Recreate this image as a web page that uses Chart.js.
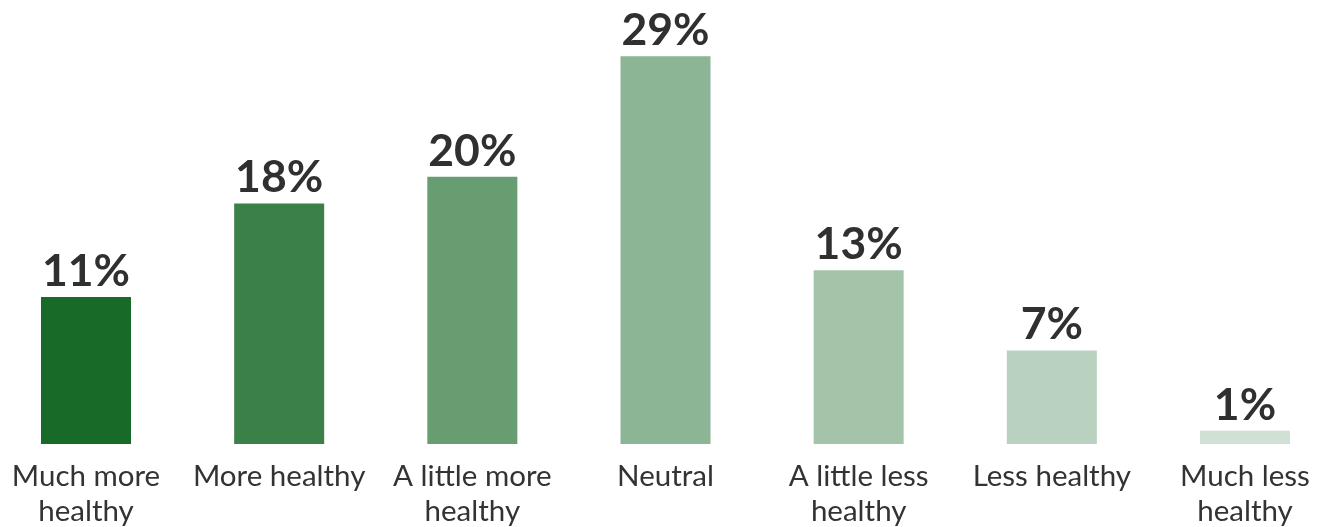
<!DOCTYPE html>
<html>
<head>
<meta charset="utf-8">
<script src="https://cdn.jsdelivr.net/npm/chart.js@4.4.1/dist/chart.umd.min.js"></script>
<style>
  html, body { margin: 0; padding: 0; background: #ffffff; }
  #wrap { width: 1323px; height: 527px; position: relative; }
</style>
</head>
<body>
<div id="wrap"><canvas id="healthChart"></canvas></div>
<script>
// Datos del gráfico
const categories = [
    ["Much more", "healthy"],
    "More healthy",
    ["A little more", "healthy"],
    "Neutral",
    ["A little less", "healthy"],
    "Less healthy",
    ["Much less", "healthy"]
];
const percentages = [11, 18, 20, 29, 13, 7, 1];
const barColors = ["#176a27", "#3c8049", "#689d72", "#8bb594", "#a4c4aa", "#b9d1bf", "#d0e0d4"];

// Etiquetas de valor encima de cada barra
const valueLabels = {
    id: "valueLabels",
    afterDatasetsDraw(chart) {
        const ctx = chart.ctx;
        const meta = chart.getDatasetMeta(0);
        ctx.save();
        ctx.font = "bold 44.5px Lato";
        ctx.fillStyle = "#303030";
        ctx.textAlign = "center";
        ctx.textBaseline = "alphabetic";
        meta.data.forEach(function(bar, i) {
            ctx.fillText(percentages[i] + "%", bar.x, bar.y - 11);
        });
        ctx.restore();
    }
};

const ctx = document.getElementById("healthChart").getContext("2d");
const chart = new Chart(ctx, {
    type: "bar",
    data: {
        labels: categories,
        datasets: [{
            data: percentages,
            backgroundColor: barColors,
            barPercentage: 0.466,
            categoryPercentage: 1,
            borderWidth: 0,
            clip: false
        }]
    },
    options: {
        responsive: true,
        maintainAspectRatio: false,
        animation: false,
        layout: {
            padding: { left: 86, right: 78, top: 43, bottom: -16 }
        },
        plugins: {
            legend: { display: false },
            tooltip: { enabled: false }
        },
        scales: {
            x: {
                offset: false,
                grid: { display: false, drawTicks: false },
                border: { display: false },
                afterFit: function(scale) {
                    // las etiquetas pueden salir del área del gráfico
                    scale.paddingLeft = 0;
                    scale.paddingRight = 0;
                },
                ticks: {
                    padding: 14.5,
                    maxRotation: 0,
                    autoSkip: false,
                    color: "#333333",
                    font: { family: "Lato", size: 29.5, lineHeight: 1.186 }
                }
            },
            y: {
                display: false,
                min: 0,
                max: 30
            }
        }
    },
    plugins: [valueLabels]
});
</script>
</body>
</html>
